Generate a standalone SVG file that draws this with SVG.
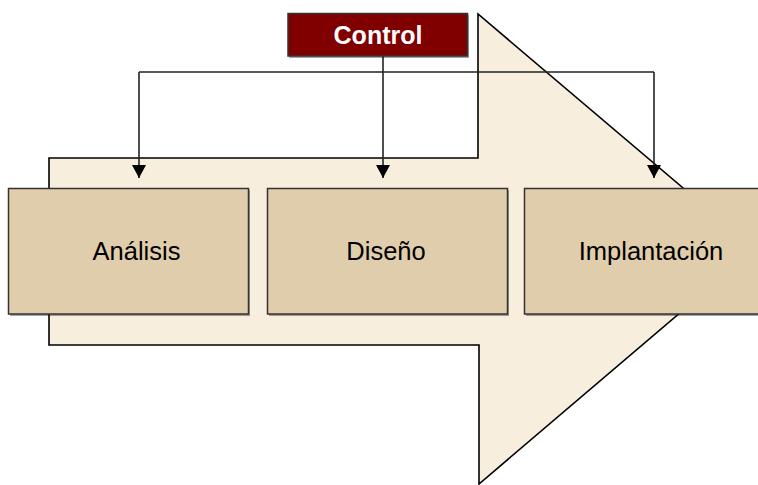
<svg xmlns="http://www.w3.org/2000/svg" width="758" height="485" viewBox="0 0 758 485">
  <defs>
    <style>
      .stage { fill: #E0CDAB; stroke: #333333; stroke-width: 1.5; }
      .shadow { fill: #000000; opacity: 0.35; }
      .label { font-family: "Liberation Sans", Arial, sans-serif; font-size: 25.5px; fill: #000000; text-anchor: middle; }
      .ctl { font-family: "Liberation Sans", Arial, sans-serif; font-size: 25px; font-weight: bold; fill: #FFFFFF; text-anchor: middle; }
      .conn { fill: none; stroke: #222222; stroke-width: 1.6; }
    </style>
    <marker id="arr" viewBox="0 0 13 14" refX="13" refY="7" markerWidth="13" markerHeight="14" markerUnits="userSpaceOnUse" orient="auto">
      <path d="M0,0 L13,7 L0,14 Z" fill="#000000"/>
    </marker>
  </defs>
  <rect width="758" height="485" fill="#FFFFFF"/>
  <g id="big-arrow">
    <polygon points="49,158 478,158 478,14 755,249 479,484 479,345 49,345" fill="#F8EEDD" stroke="#000000" stroke-width="1.6" stroke-linejoin="miter"/>
  </g>
  <g id="connectors">
    <polyline class="conn" points="139,72 654,72"/>
    <line class="conn" x1="139" y1="72" x2="139" y2="178" marker-end="url(#arr)"/>
    <line class="conn" x1="383" y1="56" x2="383" y2="178" marker-end="url(#arr)"/>
    <line class="conn" x1="654" y1="72" x2="654" y2="178" marker-end="url(#arr)"/>
  </g>
  <g id="control">
    <rect class="shadow" x="289" y="15" width="180" height="43"/>
    <rect x="288" y="13.5" width="179.5" height="42.5" fill="#800000" stroke="#333333" stroke-width="1.5"/>
    <text class="ctl" x="378" y="44">Control</text>
  </g>
  <g id="analisis">
    <rect class="shadow" x="10" y="190" width="240" height="126"/>
    <rect class="stage" x="8.5" y="188.5" width="240" height="125.5"/>
    <text class="label" x="136.5" y="260">Análisis</text>
  </g>
  <g id="diseno">
    <rect class="shadow" x="269" y="190" width="240" height="126"/>
    <rect class="stage" x="267.5" y="188.5" width="240" height="125.5"/>
    <text class="label" x="386" y="260">Diseño</text>
  </g>
  <g id="implantacion">
    <rect class="shadow" x="526" y="190" width="240" height="126"/>
    <rect class="stage" x="524.5" y="188.5" width="240" height="125.5"/>
    <text class="label" x="651" y="260">Implantación</text>
  </g>
</svg>
